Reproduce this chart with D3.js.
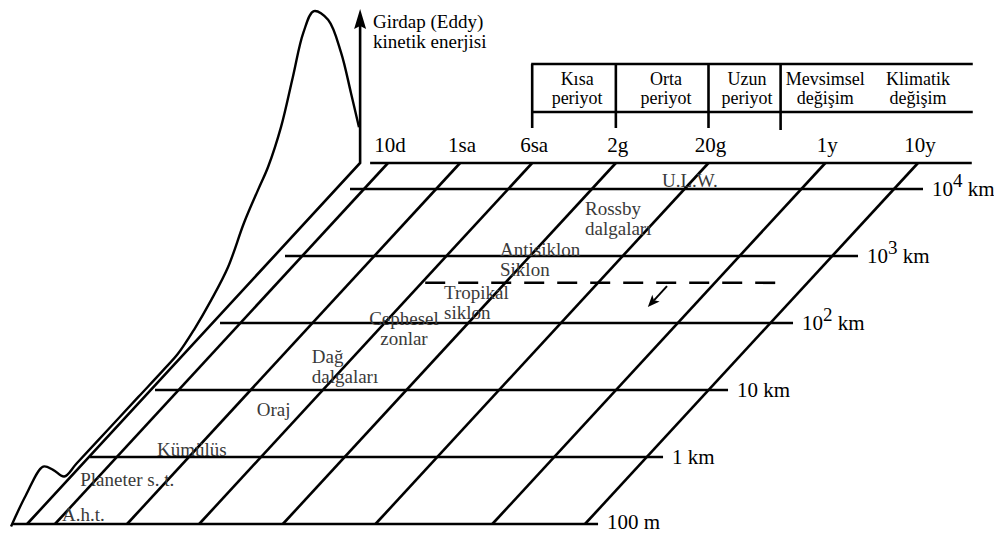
<!DOCTYPE html>
<html>
<head>
<meta charset="utf-8">
<script src="https://cdn.jsdelivr.net/npm/d3@7"></script>
<style>
  html, body { margin: 0; padding: 0; background: #fff; }
  svg { display: block; }
</style>
</head>
<body>
<svg id="chart" width="994" height="534"></svg>
<script>
// ---- Time scales (minutes) along the back edge of the floor ----
const timeTicks  = [10, 60, 360, 2880, 28800, 525600, 5256000];
const timeLabels = ["10d", "1sa", "6sa", "2g", "20g", "1y", "10y"];
const edgeTime = 5;          // near (left) edge of the floor
const farTime  = 2e7;        // far (right) end of the time axis

// ---- Spatial scales (log10 km) ----
const spaceTicks  = [-1, 0, 1, 2, 3, 4];
const spaceLabels = ["100 m", "1 km", "10 km", "10^2 km", "10^3 km", "10^4 km"];

// ---- Period bands above the time axis ----
const periodBounds  = [360, 2880, 28800, 172800];          // minutes
const periodNames   = [["Kısa", "periyot"], ["Orta", "periyot"], ["Uzun", "periyot"],
                       ["Mevsimsel", "değişim"], ["Klimatik", "değişim"]];
const periodCenters = [1100, 10000, 75000, 525600, 5256000]; // minutes

// ---- Phenomena placed in the time / space plane ----
const phenNames = [["U.L.W."], ["Rossby", "dalgaları"], ["Antisiklon", "Siklon"],
                   ["Tropikal", "siklon"], ["Cephesel", "zonlar"], ["Dağ", "dalgaları"],
                   ["Oraj"], ["Kümülüs"], ["Planeter s. t."], ["A.h.t."]];
const phenTime  = [15700, 4420, 1365, 908, 610, 148, 127, 26.5, 7.8, 11.1];   // minutes
const phenScale = [4.03, 3.61, 3.0, 2.36, 1.97, 1.40, 0.61, 0.015, -0.43, -0.955]; // log10 km

// ---- Tropical cyclone threshold and its arrow ----
const dashScale = 2.6;
const dashTimes = [393, 2.8e6];
const arrowTime = 172800;
const arrowScales = [2.55, 2.24];

// ---- Eddy kinetic energy spectrum (relative units) against spatial scale ----
const spectrumScale  = [-1.26, -1.02, -0.74, -0.58, -0.40, -0.2, 0.3, 0.8, 1.2, 1.44, 1.70,
                        1.98, 2.25, 2.51, 2.74, 2.90, 3.11, 3.30, 3.47, 3.64, 3.87, 4.08, 4.24, 4.37];
const spectrumEnergy = [7.4, 14.9, 19.8, 12.9, 3.6, 3.4, 3.3, 3.2, 3.1, 3.3, 6.6,
                        12.1, 19.3, 32.7, 41.6, 47.5, 60.4, 78.7, 95.0, 100, 88.1, 64.9, 39.6, 18.3];

// ---- Layout ----
const FONT = "'Liberation Serif', 'Times New Roman', serif";
const yTop = 163;                 // y of the time axis line
const shear = 0.9224;             // horizontal shift per pixel of depth
const xT = d3.scaleLog().domain([10, 5256000]).range([388, 918]);
const yS = d3.scaleLinear().domain([-1, 4]).range([524, 189]);
const eS = d3.scaleLinear().domain([0, 100]).range([0, 202]);
const yBase = yS(-1);
const lineLeft = 350, lineRight = 923, lineShear = 0.97;

// oblique projection: (time, log scale) -> screen
const proj = (t, s) => { const y = yS(s); return [xT(t) - shear * (y - yTop), y]; };
const edgeX = y => xT(edgeTime) - shear * (y - yTop);

const svg = d3.select("#chart");
const ink = "#000";
const lw = 2.6;
const label = (x, y, size, txt, fill = ink) =>
  svg.append("text").attr("x", x).attr("y", y).attr("font-family", FONT)
    .attr("font-size", size).attr("fill", fill).text(txt);

// horizontal spatial-scale lines
spaceTicks.forEach((s, i) => {
  const y = yS(s);
  let x0 = lineLeft - lineShear * (y - yS(4));
  const x1 = lineRight - lineShear * (y - yS(4));
  if (i === 0) x0 -= 12;
  svg.append("line").attr("x1", x0).attr("x2", x1).attr("y1", y).attr("y2", y)
    .attr("stroke", ink).attr("stroke-width", lw);

  // label with optional exponent
  const [base, rest] = spaceLabels[i].split("^");
  const t = label(x1 + 9, Math.min(y + 7, 529), 21, null);
  if (rest === undefined) {
    t.text(base);
  } else {
    const exp = rest[0], unit = rest.slice(1).trim();
    t.append("tspan").text(base);
    t.append("tspan").attr("dy", -9).attr("font-size", 19).text(exp);
    t.append("tspan").attr("dy", 9).text("\u00a0" + unit);
  }
});

// time axis line
svg.append("line").attr("x1", xT(edgeTime) + 10).attr("x2", xT(farTime))
  .attr("y1", yTop).attr("y2", yTop).attr("stroke", ink).attr("stroke-width", lw);

// slanted time-scale lines
timeTicks.forEach(t => {
  const xa = xT(t);
  svg.append("line").attr("x1", xa).attr("y1", yTop)
    .attr("x2", xa - shear * (yBase - yTop)).attr("y2", yBase)
    .attr("stroke", ink).attr("stroke-width", lw);
});

// time labels
timeTicks.forEach((t, i) => {
  label(xT(t) + 2, 152, 21, timeLabels[i]).attr("text-anchor", "middle");
});

// near edge of the floor and the energy axis
const xe = xT(edgeTime);
svg.append("path")
  .attr("d", `M${edgeX(yBase)},${yBase} L${xe},${yTop} L${xe},24`)
  .attr("fill", "none").attr("stroke", ink).attr("stroke-width", lw)
  .attr("stroke-linejoin", "miter");
svg.append("path")
  .attr("d", `M${xe},9 L${xe + 6},29 L${xe},26 L${xe - 6},29 Z`)
  .attr("fill", ink);

label(373, 28, 19, "Girdap (Eddy)");
label(373, 48, 19, "kinetik enerjisi");

// energy spectrum drawn in the vertical plane of the near edge
const spec = spectrumScale.map((s, i) => {
  const y = yS(s);
  return [edgeX(y), y - eS(spectrumEnergy[i])];
});
svg.append("path")
  .attr("d", d3.line().curve(d3.curveCatmullRom.alpha(0.5))(spec))
  .attr("fill", "none").attr("stroke", ink).attr("stroke-width", 2.4);

// period box
const boxTop = 64, boxMid = 112, boxBottom = 128;
[boxTop, boxMid].forEach(y => {
  svg.append("line").attr("x1", xT(periodBounds[0]) - 1).attr("x2", xT(farTime) + 1)
    .attr("y1", y).attr("y2", y).attr("stroke", ink).attr("stroke-width", lw);
});
periodBounds.forEach((b, i) => {
  svg.append("line").attr("x1", xT(b)).attr("x2", xT(b))
    .attr("y1", boxTop).attr("y2", boxBottom + (i === periodBounds.length - 1 ? 2 : 0))
    .attr("stroke", ink).attr("stroke-width", lw);
});
periodNames.forEach((lines, i) => {
  lines.forEach((txt, j) => {
    label(xT(periodCenters[i]), 85 + j * 19, 18, txt).attr("text-anchor", "middle");
  });
});

// phenomena labels
const centered = new Set(["Cephesel"]);
phenNames.forEach((lines, i) => {
  const [x, y] = proj(phenTime[i], phenScale[i]);
  lines.forEach((txt, j) => {
    label(x, y + j * 20, 19, txt, "#3a3a3a")
      .attr("text-anchor", centered.has(lines[0]) ? "middle" : "start");
  });
});

// dashed threshold
const d0 = proj(dashTimes[0], dashScale), d1 = proj(dashTimes[1], dashScale);
svg.append("line").attr("x1", d0[0]).attr("y1", d0[1]).attr("x2", d1[0]).attr("y2", d1[1])
  .attr("stroke", ink).attr("stroke-width", 2.6).attr("stroke-dasharray", "20,13");

// arrow toward smaller scales
const a0 = proj(arrowTime, arrowScales[0]), a1 = proj(arrowTime, arrowScales[1]);
const ang = Math.atan2(a1[1] - a0[1], a1[0] - a0[0]);
const hl = 12, hw = 5;
const bx = a1[0] - hl * Math.cos(ang), by = a1[1] - hl * Math.sin(ang);
svg.append("line").attr("x1", a0[0]).attr("y1", a0[1])
  .attr("x2", bx + 3 * Math.cos(ang)).attr("y2", by + 3 * Math.sin(ang))
  .attr("stroke", ink).attr("stroke-width", 2);
svg.append("path")
  .attr("d", `M${a1[0]},${a1[1]} L${bx - hw * Math.sin(ang)},${by + hw * Math.cos(ang)} L${bx + 3 * Math.cos(ang)},${by + 3 * Math.sin(ang)} L${bx + hw * Math.sin(ang)},${by - hw * Math.cos(ang)} Z`)
  .attr("fill", ink);
</script>
</body>
</html>
